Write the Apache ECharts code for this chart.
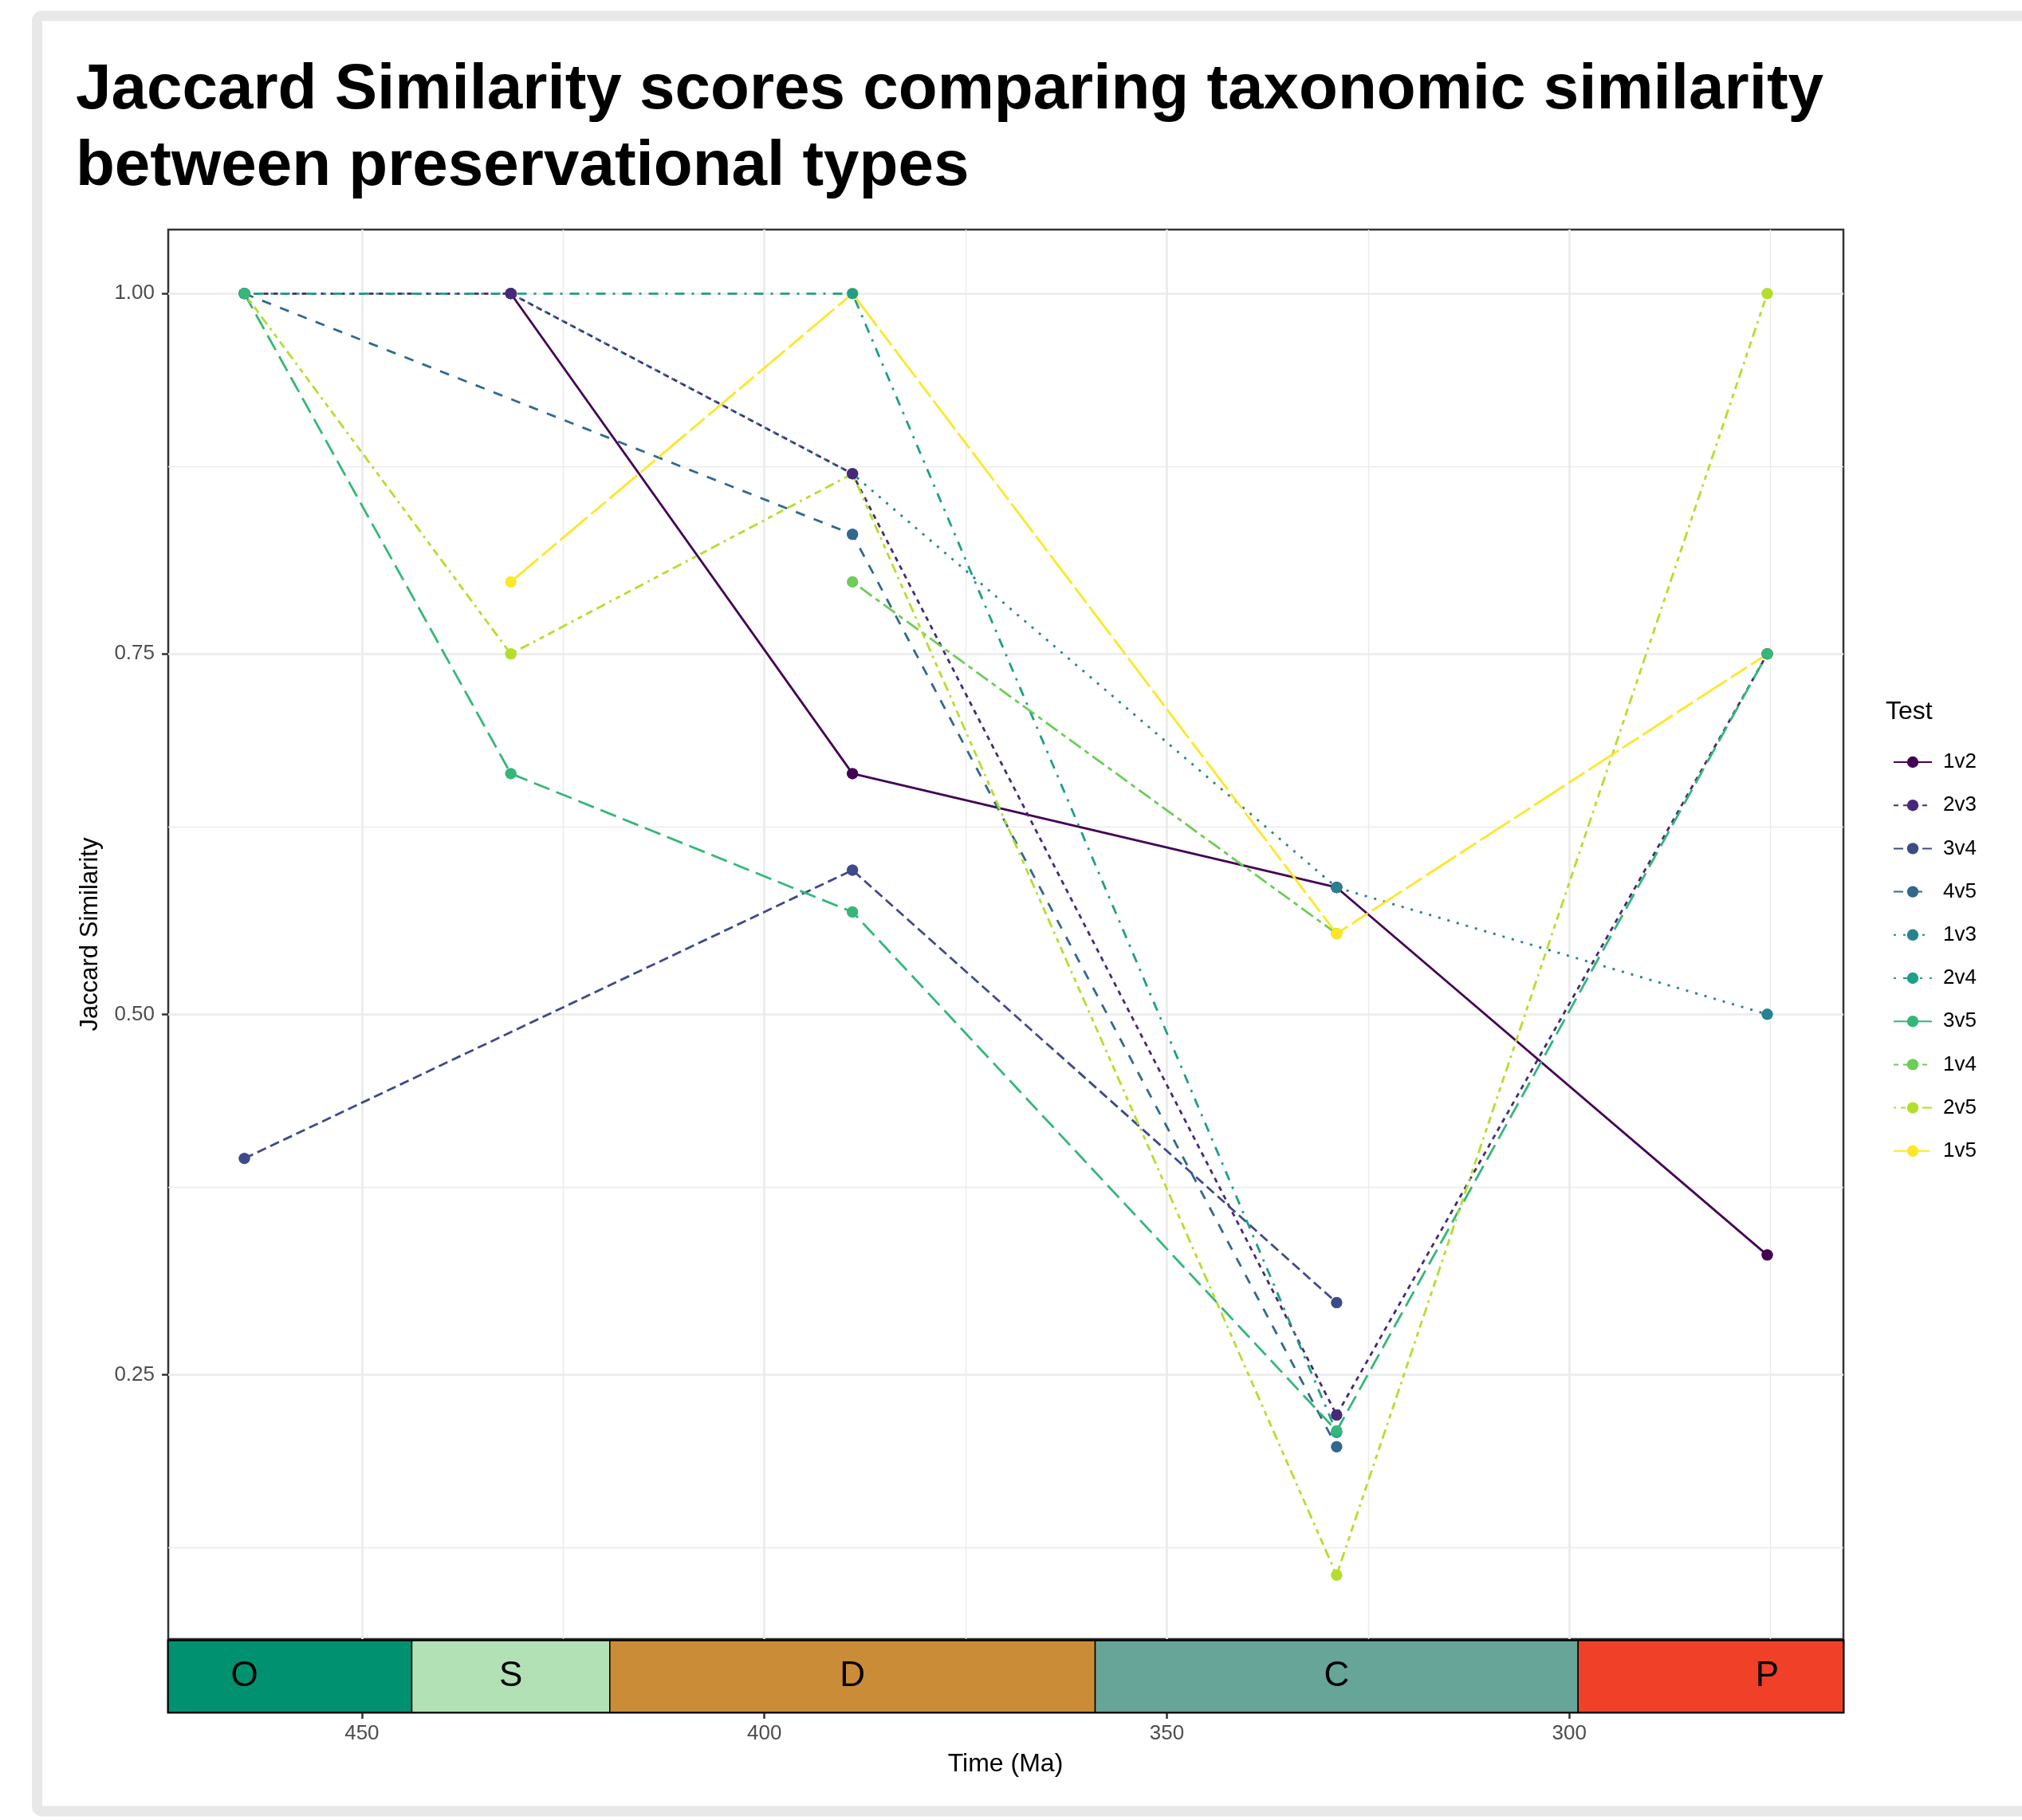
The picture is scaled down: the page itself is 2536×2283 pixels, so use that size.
<!DOCTYPE html>
<html><head><meta charset="utf-8">
<script src="https://cdn.jsdelivr.net/npm/echarts@6/dist/echarts.min.js"></script>
<style>html,body{margin:0;padding:0;background:#fff}#c{width:2536px;height:2283px}</style>
</head><body><div id="c"></div>
<script>
// ---- data ----
const periods = ['O', 'S', 'D', 'C', 'P'];
const periodStart = [485.4, 443.8, 419.2, 358.9, 298.9];
const periodEnd = [443.8, 419.2, 358.9, 298.9, 251.9];
const periodColors = ['#009270', '#B3E1B6', '#CB8C37', '#67A599', '#F04028'];
const timeMid = [464.6, 431.5, 389.05, 328.9, 275.4];

const tests = ['1v2', '2v3', '3v4', '4v5', '1v3', '2v4', '3v5', '1v4', '2v5', '1v5'];
const s1v2 = [null, 1.0, 0.667, 0.588, 0.333];
const s2v3 = [1.0, 1.0, 0.875, 0.222, 0.75];
const s3v4 = [0.4, null, 0.6, 0.3, null];
const s4v5 = [1.0, null, 0.833, 0.2, null];
const s1v3 = [null, 1.0, 0.875, 0.588, 0.5];
const s2v4 = [1.0, null, 1.0, 0.21, null];
const s3v5 = [1.0, 0.667, 0.571, 0.211, 0.75];
const s1v4 = [null, null, 0.8, 0.556, null];
const s2v5 = [1.0, 0.75, 0.875, 0.111, 1.0];
const s1v5 = [null, 0.8, 1.0, 0.556, 0.75];

const xTicks = [450, 400, 350, 300];
const xMinor = [425, 375, 325, 275];
const yTicks = [0.25, 0.5, 0.75, 1.0];
const yMinor = [0.125, 0.375, 0.625, 0.875];

// ---- styling ----
const seriesValues = [s1v2, s2v3, s3v4, s4v5, s1v3, s2v4, s3v5, s1v4, s2v5, s1v5];
const colors = ['#440154', '#482878', '#3E4A89', '#31688E', '#26828E', '#1F9E89', '#35B779', '#6DCD59', '#B4DE2C', '#FDE725'];
const U = 3;
const dashUnits = ['solid', [2,2], [4,2], [4,4], [1,3], [1,3,4,3], [7,3], [2,2,6,2], [1,2,2,2,3,2,4,2], [15,2,8,2]];
const dashes = dashUnits.map(d => Array.isArray(d) ? d.map(v => v * U) : d);
const pointOrder = ['1v2', '1v4', '1v5', '2v5', '1v3', '2v3', '4v5', '2v4', '3v5', '3v4'];

const FONT = '"Liberation Sans", Arial, Helvetica, sans-serif';
const X_MIN = 265.94, X_MAX = 474.06;
const Y_MIN = 0.0666, Y_MAX = 1.0444;

function pts(vals) {
  const out = [];
  vals.forEach((v, i) => { if (v !== null) out.push([timeMid[i], v]); });
  return out;
}

const lineSeries = tests.map((t, k) => ({
  type: 'line', name: t, xAxisIndex: 0, yAxisIndex: 0,
  data: pts(seriesValues[k]),
  symbol: 'circle', symbolSize: 14, showSymbol: true,
  lineStyle: { color: colors[k], width: 2.8, type: dashes[k], cap: 'butt' },
  itemStyle: { color: colors[k] },
  z: 2, animation: false, silent: true
}));

const pointSeries = pointOrder.map(t => {
  const k = tests.indexOf(t);
  return {
    type: 'scatter', name: t, xAxisIndex: 0, yAxisIndex: 0,
    data: pts(seriesValues[k]), symbol: 'circle', symbolSize: 14,
    itemStyle: { color: colors[k], opacity: 1 }, z: 3, animation: false, silent: true
  };
});

const gridLineData = []
  .concat(xMinor.map(v => ({ xAxis: v, lineStyle: { color: '#EBEBEB', width: 1.4, type: 'solid' } })))
  .concat(yMinor.map(v => ({ yAxis: v, lineStyle: { color: '#EBEBEB', width: 1.4, type: 'solid' } })))
  .concat(xTicks.map(v => ({ xAxis: v, lineStyle: { color: '#EBEBEB', width: 2.7, type: 'solid' } })))
  .concat(yTicks.map(v => ({ yAxis: v, lineStyle: { color: '#EBEBEB', width: 2.7, type: 'solid' } })));

const gridSeries = {
  type: 'line', name: '_grid', xAxisIndex: 0, yAxisIndex: 0, data: [], z: 1, silent: true, animation: false,
  markLine: { z: 1, zlevel: 0, silent: true, symbol: 'none', animation: false, label: { show: false }, data: gridLineData }
};

const bandSeries = {
  type: 'custom', name: '_band', xAxisIndex: 1, yAxisIndex: 1, animation: false, silent: true, z: 2,
  data: periods.map((p, i) => [periodStart[i], periodEnd[i], (periodStart[i] + periodEnd[i]) / 2]),
  renderItem: function (params, api) {
    const i = params.dataIndex;
    const a = api.coord([api.value(0), 1]);
    const b = api.coord([api.value(1), 0]);
    const cs = params.coordSys;
    const rect = echarts.graphic.clipRectByRect(
      { x: Math.min(a[0], b[0]), y: Math.min(a[1], b[1]), width: Math.abs(b[0] - a[0]), height: Math.abs(b[1] - a[1]) },
      { x: cs.x, y: cs.y, width: cs.width, height: cs.height });
    const m = api.coord([api.value(2), 0.5]);
    return {
      type: 'group', children: [
        { type: 'rect', shape: rect, style: { fill: periodColors[i], stroke: '#000', lineWidth: 1.5 } },
        { type: 'text', x: m[0], y: m[1], style: { text: periods[i], fontSize: 44, fontFamily: FONT, fill: '#000', align: 'center', verticalAlign: 'middle' } }
      ]
    };
  }
};

const chart = echarts.init(document.getElementById('c'), null, { renderer: 'canvas' });
chart.setOption({
  backgroundColor: '#ffffff',
  animation: false,
  textStyle: { fontFamily: FONT },
  grid: [
    { left: 211, top: 288, width: 2101, height: 1768, show: true, borderColor: '#333333', borderWidth: 2.5, backgroundColor: 'transparent' },
    { left: 211, top: 2058, width: 2101, height: 90, show: true, borderColor: '#000000', borderWidth: 3, backgroundColor: 'transparent' }
  ],
  xAxis: [
    { type: 'value', gridIndex: 0, min: X_MIN, max: X_MAX, inverse: true,
      axisLine: { show: false }, axisTick: { show: false }, axisLabel: { show: false }, splitLine: { show: false } },
    { type: 'value', gridIndex: 1, min: X_MIN, max: X_MAX, inverse: true, position: 'bottom',
      axisLine: { show: false },
      axisTick: { show: true, customValues: xTicks, length: 8, lineStyle: { color: '#333333', width: 2.5 } },
      axisLabel: { show: true, customValues: xTicks, fontSize: 26, color: '#4D4D4D', margin: 14, fontFamily: FONT },
      splitLine: { show: false } }
  ],
  yAxis: [
    { type: 'value', gridIndex: 0, min: Y_MIN, max: Y_MAX,
      axisLine: { show: false },
      axisTick: { show: true, customValues: yTicks, length: 8, lineStyle: { color: '#333333', width: 2.5 } },
      axisLabel: { show: true, customValues: yTicks, fontSize: 26, color: '#4D4D4D', margin: 17, fontFamily: FONT,
        formatter: v => Number(v).toFixed(2) },
      splitLine: { show: false } },
    { type: 'value', gridIndex: 1, min: 0, max: 1, show: false }
  ],
  legend: {
    data: tests, orient: 'vertical', left: 2369, top: 938,
    itemWidth: 48, itemHeight: 18, itemGap: 28.2,
    textStyle: { fontSize: 26, color: '#000', fontFamily: FONT, lineHeight: 26, padding: [0, 0, 0, 9] },
    selectedMode: false
  },
  graphic: [
    { type: 'rect', z: 100, silent: true, shape: { x: 46.5, y: 20, width: 2600, height: 2252, r: 6 },
      style: { fill: 'none', stroke: '#E8E8E8', lineWidth: 13 } },
    { type: 'text', z: 100, x: 95, y: 114, style: { text: 'Jaccard Similarity scores comparing taxonomic similarity', fontSize: 80, fontWeight: 'bold', fontFamily: FONT, fill: '#000', align: 'left', verticalAlign: 'middle' } },
    { type: 'text', z: 100, x: 95, y: 210, style: { text: 'between preservational types', fontSize: 80, fontWeight: 'bold', fontFamily: FONT, fill: '#000', align: 'left', verticalAlign: 'middle' } },
    { type: 'text', z: 100, x: 113, y: 1172, rotation: Math.PI / 2, style: { text: 'Jaccard Similarity', fontSize: 31, fontFamily: FONT, fill: '#000', align: 'center', verticalAlign: 'middle' } },
    { type: 'text', z: 100, x: 1261, y: 2213, style: { text: 'Time (Ma)', fontSize: 32, fontFamily: FONT, fill: '#000', align: 'center', verticalAlign: 'middle' } },
    { type: 'text', z: 100, x: 2365, y: 893, style: { text: 'Test', fontSize: 32, fontFamily: FONT, fill: '#000', align: 'left', verticalAlign: 'middle' } }
  ],
  series: [gridSeries].concat(lineSeries, pointSeries, [bandSeries])
});
</script>
</body></html>
